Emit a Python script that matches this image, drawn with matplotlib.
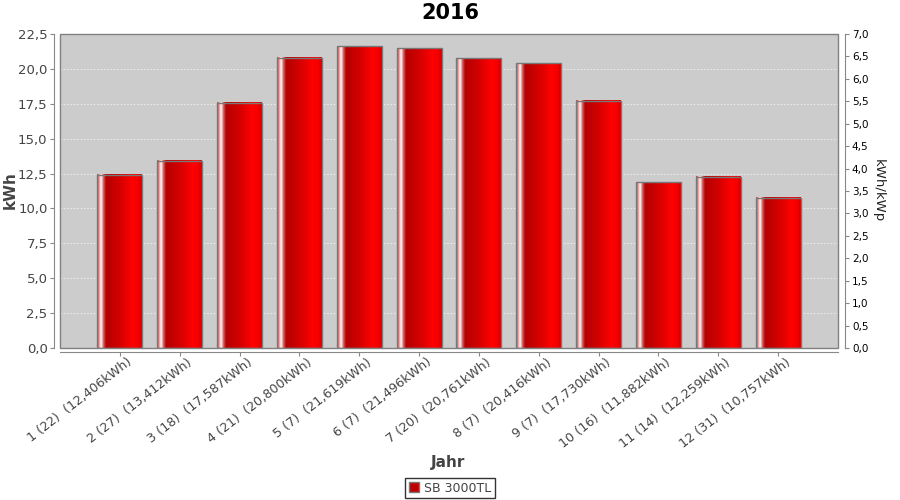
import numpy as np
import matplotlib.pyplot as plt
import matplotlib.transforms as mtrans
from matplotlib.colors import LinearSegmentedColormap
from matplotlib.patches import Rectangle

plt.switch_backend('agg')

# Monatswerte 2016
monate = [1, 2, 3, 4, 5, 6, 7, 8, 9, 10, 11, 12]
tage = [22, 27, 18, 21, 7, 7, 20, 7, 7, 16, 14, 31]
kwh = [12.406, 13.412, 17.587, 20.800, 21.619, 21.496,
       20.761, 20.416, 17.730, 11.882, 12.259, 10.757]
serie = "SB 3000TL"

labels = []
for m, d, v in zip(monate, tage, kwh):
    labels.append(("%d (%d)  (%.3fkWh)" % (m, d, v)).replace(".", ","))

txtcol = "#444444"
grad = LinearSegmentedColormap.from_list("bar", [
    (0.00, "#c04040"), (0.05, "#f0a0a0"), (0.09, "#ffffff"),
    (0.14, "#e06060"), (0.20, "#b40000"), (0.50, "#d40000"),
    (0.80, "#ff0000"), (0.92, "#f40000"), (1.00, "#c80000")])

fig = plt.figure(figsize=(9, 5), dpi=100)
ax = fig.add_axes([60/900, 1-348/500, 778/900, 314/500])
ax.set_facecolor("#cccccc")

x = np.arange(1, len(kwh)+1)
bars = ax.bar(x, kwh, width=0.75, facecolor="none", edgecolor="#777777",
              linewidth=1.0, zorder=4)
g = np.linspace(0, 1, 200).reshape(1, -1)
for b in bars:
    x0 = b.get_x()
    ax.imshow(g, cmap=grad, extent=[x0, x0+b.get_width(), 0, b.get_height()],
              aspect="auto", zorder=3, interpolation="bilinear")

ax.set_xlim(0, 13)
ax.set_ylim(0, 22.5)
ax.set_yticks(np.arange(0, 22.6, 2.5))
ax.set_yticklabels([("%.1f" % t).replace(".", ",") for t in np.arange(0, 22.6, 2.5)])
ax.yaxis.grid(True, color="#f0f0f0", linestyle=(0, (2, 2)), linewidth=0.6, zorder=1)
ax.set_axisbelow(True)
ax.set_xticks(x)
ax.set_xticklabels(labels)
ax.tick_params(axis="x", length=3, color="#888888", pad=1)
ax.tick_params(axis="y", length=3, color="#888888", labelsize=9.5,
               labelcolor=txtcol, pad=2)

for s in ["top", "right"]:
    ax.spines[s].set_visible(False)
ax.spines["left"].set_position(("outward", 4))
ax.spines["bottom"].set_position(("outward", 3))
ax.spines["left"].set_color("#888888")
ax.spines["bottom"].set_color("#888888")
ax.add_patch(Rectangle((0, 0), 1, 1, transform=ax.transAxes, fill=False,
                       edgecolor="#808080", linewidth=1.0, zorder=6, clip_on=False))

ax2 = ax.twinx()
ax2.set_ylim(0, 7.0)
rt = np.arange(0, 7.01, 0.5)
ax2.set_yticks(rt)
ax2.set_yticklabels([("%.1f" % t).replace(".", ",") for t in rt])
ax2.tick_params(axis="y", length=3, color="#888888", labelsize=7.5, pad=2)
for s in ["top", "left", "bottom"]:
    ax2.spines[s].set_visible(False)
ax2.spines["right"].set_position(("outward", 5))
ax2.spines["right"].set_color("#888888")
ax2.set_ylabel("kWh/kWp", fontsize=9.5, rotation=-90, labelpad=12, color="#222222")

shift = mtrans.ScaledTranslation(7/100, 2/100, fig.dpi_scale_trans)
for lab in ax.get_xticklabels():
    lab.set_rotation(38)
    lab.set_ha("right")
    lab.set_va("top")
    lab.set_rotation_mode("anchor")
    lab.set_fontsize(9.2)
    lab.set_color(txtcol)
    lab.set_transform(lab.get_transform() + shift)

fig.text(0.5, 1-13/500, "2016", ha="center", va="center", fontsize=15,
         fontweight="bold")
fig.text(10/900, 1-190/500, "kWh", ha="center", va="center", rotation=90,
         fontsize=11, fontweight="bold", color=txtcol)
fig.text(448/900, 1-462/500, "Jahr", ha="center", va="center",
         fontsize=11, fontweight="bold", color=txtcol)

h = [Rectangle((0, 0), 1, 1, facecolor="#c00000", edgecolor="#777777")]
leg = fig.legend(h, [serie], loc="center", bbox_to_anchor=(450/900, 1-488/500),
                 fontsize=9, fancybox=False, edgecolor="black", handlelength=0.8,
                 handleheight=0.8, handletextpad=0.4, borderpad=0.3,
                 borderaxespad=0)
leg.get_frame().set_linewidth(1.0)
for t in leg.get_texts():
    t.set_color(txtcol)

plt.savefig("out.png", dpi=100)
